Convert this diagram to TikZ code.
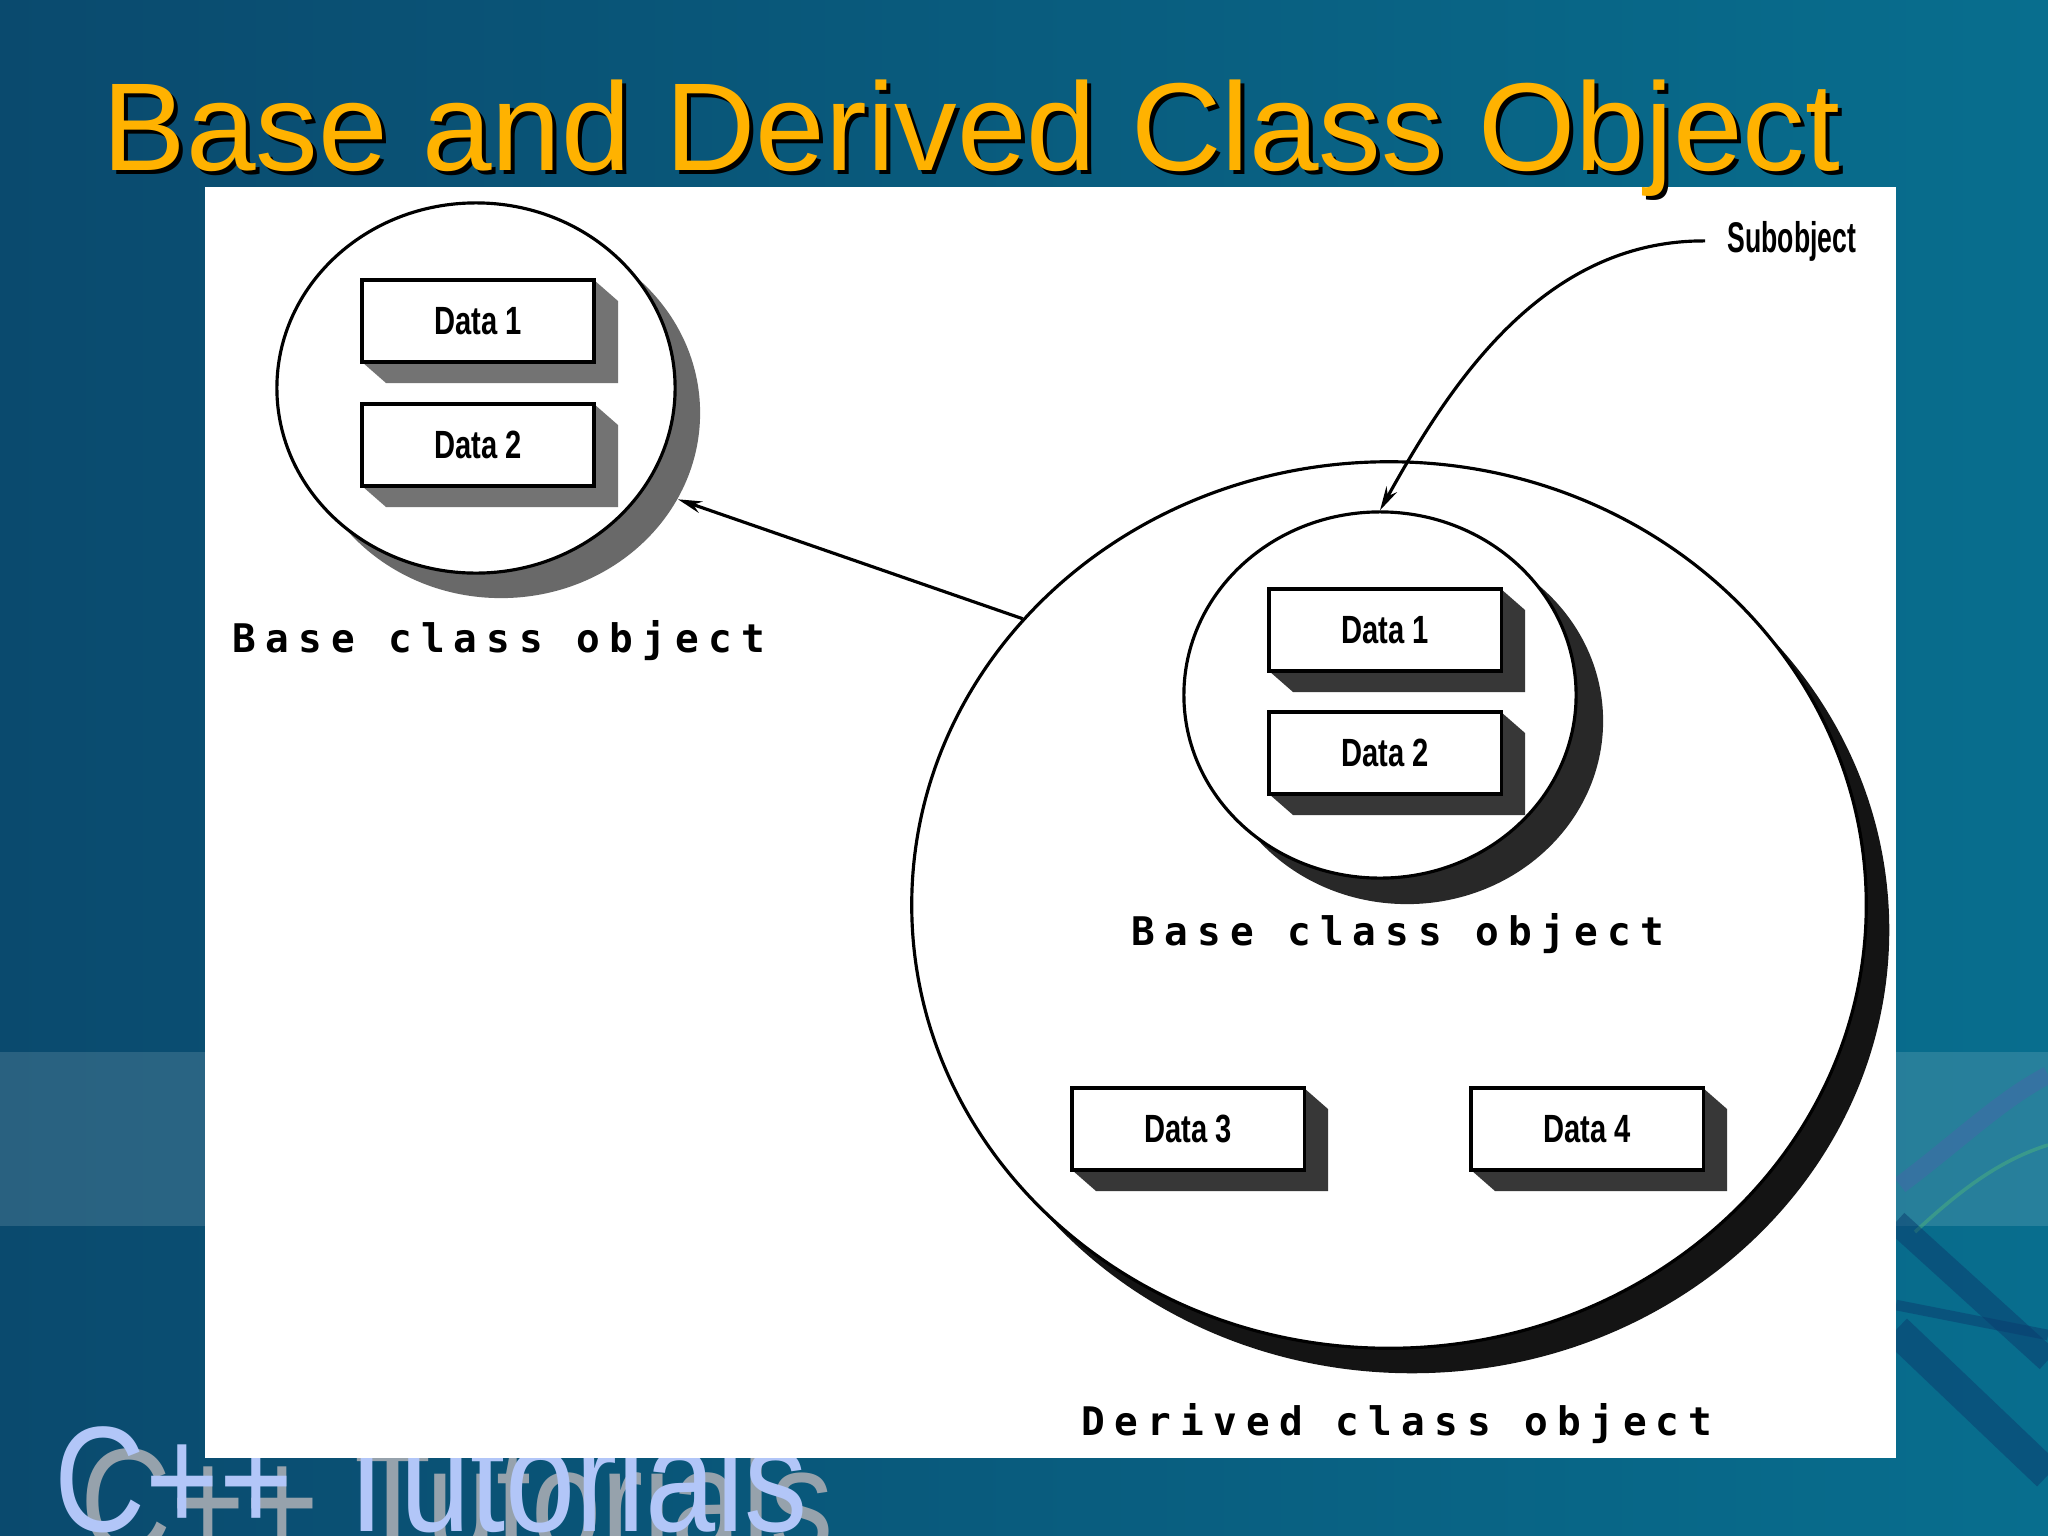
\documentclass[tikz,border=0pt]{standalone}
\usepackage{fontspec}
\setmainfont{Liberation Sans}
\newfontfamily\titlefont{Liberation Sans}
\newfontfamily\datafont[FakeStretch=0.74]{Liberation Sans}
\newfontfamily\subfont[FakeStretch=0.62]{Liberation Sans}
\newfontfamily\logofont[FakeStretch=0.84]{Liberation Sans}
\newfontfamily\lblfont[LetterSpace=23.4]{DejaVu Sans Mono}
\usetikzlibrary{shapes.geometric,arrows.meta,calc}

\definecolor{bgL}{RGB}{10,74,110}
\definecolor{bgR}{RGB}{8,110,142}
\definecolor{titleyel}{RGB}{255,178,0}
\definecolor{logoblue}{RGB}{178,198,248}
\definecolor{logoshad}{RGB}{150,162,172}
\definecolor{shTL}{RGB}{105,105,105}
\definecolor{shTLbox}{RGB}{115,115,115}
\definecolor{shIn}{RGB}{40,40,40}
\definecolor{shDer}{RGB}{20,20,20}
\definecolor{shBox}{RGB}{55,55,55}
\definecolor{swLight}{RGB}{60,110,165}
\definecolor{swGreen}{RGB}{70,170,130}
\definecolor{swDark}{RGB}{10,60,110}

\newcommand{\dbox}[5]{%
  \fill[#5] (#2+116,#3-41) -- ++(24,21) -- ++(0,82) -- ++(-232,0) -- ++(-24,-21) -- cycle;
  \node[databox] (#1) at (#2,#3) {#4};}

\begin{document}
\begin{tikzpicture}[x=0.01cm,y=-0.01cm,
  circ/.style={ellipse, draw=black, line width=0.9pt, fill=white, inner sep=0pt},
  circsh/.style={ellipse, draw=none, inner sep=0pt},
  databox/.style={rectangle, draw=black, line width=0.9pt, fill=white, inner sep=0pt,
    minimum width=2.32cm, minimum height=0.82cm,
    font=\datafont\bfseries\fontsize{11.2pt}{13pt}\selectfont},
  lbl/.style={anchor=base west, inner sep=0pt,
    font=\lblfont\bfseries\fontsize{11.2pt}{12pt}\selectfont},
  logo/.style={anchor=base west, inner sep=0pt,
    font=\logofont\fontsize{42.7pt}{48pt}\selectfont},
  ttl/.style={anchor=base west, inner sep=0pt,
    font=\titlefont\fontsize{35.56pt}{40pt}\selectfont},
  arr/.style={line width=0.9pt, -{Stealth[length=0.24cm,width=0.12cm]}},
]
\useasboundingbox (0,0) rectangle (2048,1536);
% background
\shade[left color=bgL,right color=bgR] (0,0) rectangle (2048,1536);
\fill[white,opacity=0.13] (0,1052) rectangle (2048,1226);
\draw[line width=5pt, swLight, opacity=0.7] (1900,1185) .. controls (1960,1140) and (2000,1100) .. (2048,1075);
\draw[line width=1pt, swGreen, opacity=0.6] (1915,1232) .. controls (1960,1190) and (2000,1160) .. (2048,1145);
\draw[line width=7pt, swDark, opacity=0.5] (1896,1222) -- (2048,1360);
\draw[line width=3pt, swDark, opacity=0.5] (1896,1305) -- (2048,1335);
\draw[line width=9pt, swDark, opacity=0.5] (1896,1330) -- (2048,1475);
% logo
\node[logo, text=logoshad] (logosh) at (80,1553) {C++ Tutorials};
\node[logo, text=logoblue] (logo) at (54,1531) {C++ Tutorials};
% panel
\fill[white] (205,187) rectangle (1896,1458);
% title
\node[ttl, text=black] (titlesh) at (106,174) {Base and Derived Class Object};
\node[ttl, text=titleyel] (title) at (102,170) {Base and Derived Class Object};

% standalone base class object
\node[circsh, fill=shTL, minimum width=3.98cm, minimum height=3.70cm] (b0sh) at (501,413) {};
\node[circ, minimum width=3.98cm, minimum height=3.70cm] (b0) at (476,388) {};
\dbox{b0d1}{478}{321}{Data 1}{shTLbox}
\dbox{b0d2}{478}{445}{Data 2}{shTLbox}
\node[lbl] (b0lbl) at (232,652) {Base class object};

% derived class object
\node[circsh, fill=shDer, minimum width=9.54cm, minimum height=8.86cm] (dsh) at (1412,930) {};
\node[circ, minimum width=9.54cm, minimum height=8.86cm] (der) at (1389,905) {};
\node[circsh, fill=shIn, minimum width=3.92cm, minimum height=3.66cm] (ish) at (1407,721) {};
\node[circ, minimum width=3.92cm, minimum height=3.66cm] (inner) at (1380,695) {};
\dbox{id1}{1385}{630}{Data 1}{shBox}
\dbox{id2}{1385}{753}{Data 2}{shBox}
\node[lbl] (ilbl) at (1131,945) {Base class object};
\dbox{d3}{1188}{1129}{Data 3}{shBox}
\dbox{d4}{1587}{1129}{Data 4}{shBox}
\node[lbl] (dlbl) at (1081,1435) {Derived class object};

% connectors
\draw[arr] (der.142) -- (b0sh.-26);
\node[anchor=base west, inner xsep=0.22cm, inner ysep=0pt,
  font=\subfont\bfseries\fontsize{12.2pt}{14pt}\selectfont] (sub) at (1705,252) {Subobject};
\draw[arr] (sub.west) .. controls (1540,240) and (1447,390) .. (inner.north);
\end{tikzpicture}
\end{document}
